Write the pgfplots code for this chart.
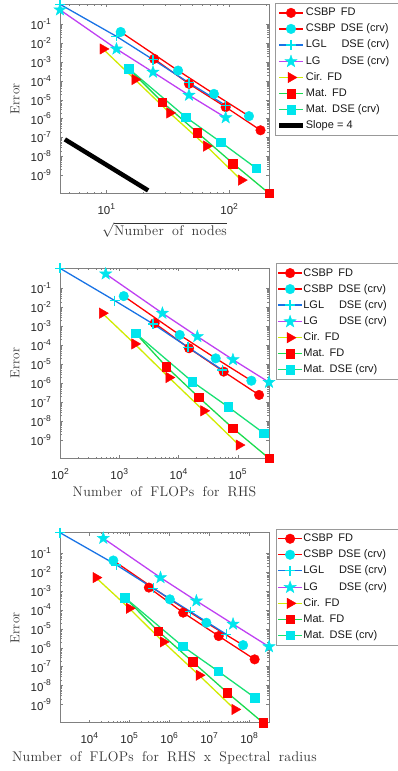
\documentclass[border=0pt]{standalone}
\usepackage{fontspec}
\setsansfont{Liberation Sans}
\newfontfamily\labfont[WordSpace=1.7,LetterSpace=2]{Latin Modern Roman}
\usepackage{pgfplots}
\pgfplotsset{compat=1.18}

\definecolor{cR}{rgb}{1,0,0}
\definecolor{cC}{rgb}{0,0.9,0.93}
\definecolor{cB}{rgb}{0.1,0.45,0.9}
\definecolor{cM}{rgb}{0.75,0.25,0.95}
\definecolor{cY}{rgb}{0.82,0.92,0}
\definecolor{cG}{rgb}{0.1,0.86,0.3}
\definecolor{cGG}{rgb}{0.1,0.88,0.45}

\newcommand{\p}[1]{10\raisebox{0.45em}{\fontsize{8.5}{9}\selectfont #1}}
\newcommand{\crvw}{\makebox[46pt][l]{(crv)}}
\newcommand{\gap}{\hspace{5pt}}

\pgfdeclareplotmark{fstar}{%
  \pgfpathmoveto{\pgfpointpolar{90}{\pgfplotmarksize}}%
  \pgfpathlineto{\pgfpointpolar{126}{0.4\pgfplotmarksize}}%
  \pgfpathlineto{\pgfpointpolar{162}{\pgfplotmarksize}}%
  \pgfpathlineto{\pgfpointpolar{198}{0.4\pgfplotmarksize}}%
  \pgfpathlineto{\pgfpointpolar{234}{\pgfplotmarksize}}%
  \pgfpathlineto{\pgfpointpolar{270}{0.4\pgfplotmarksize}}%
  \pgfpathlineto{\pgfpointpolar{306}{\pgfplotmarksize}}%
  \pgfpathlineto{\pgfpointpolar{342}{0.4\pgfplotmarksize}}%
  \pgfpathlineto{\pgfpointpolar{18}{\pgfplotmarksize}}%
  \pgfpathlineto{\pgfpointpolar{54}{0.4\pgfplotmarksize}}%
  \pgfpathclose
  \pgfusepathqfillstroke
}

\pgfplotsset{
  legend image code/.code={\draw[mark repeat=2,mark phase=2,#1] plot coordinates {(0pt,0pt) (12pt,0pt) (24pt,0pt)};},
  every axis/.append style={
    scale only axis, width=209pt,
    ymin=1.1e-10, ymax=1.14, clip=false,
    ytick={1e-9,1e-8,1e-7,1e-6,1e-5,1e-4,1e-3,1e-2,1e-1},
    yticklabels={\p{-9},\p{-8},\p{-7},\p{-6},\p{-5},\p{-4},\p{-3},\p{-2},\p{-1}},
    tick align=inside, major tick length=3pt, minor tick length=1.6pt,
    axis line style={black!50, line width=0.6pt},
    ticklabel style={font=\fontsize{11.5}{13}\sffamily, text=black!85},
    xticklabel style={yshift=-6.5pt},
    yticklabel style={xshift=-5.5pt},
    ylabel={Error},
    ylabel style={at={(axis description cs:-0.215,0.5)}, anchor=center, font=\fontsize{13}{15}\labfont, text=black!80},
    xlabel style={at={(axis description cs:0.5,0)}, anchor=base, font=\fontsize{14}{16}\labfont, text=black!80},
    legend cell align=left,
    legend style={anchor=north west, draw=black!40, line width=0.5pt, fill=white,
      font=\fontsize{11}{13}\sffamily, text=black!90,
      inner xsep=1.5pt, inner ysep=3.7pt, row sep=4.4pt,
      nodes={inner xsep=0.6pt, inner ysep=0.5pt, text height=8.2pt, text depth=2.4pt}},
  },
  sCF/.style={color=cR, line width=1.3pt, mark=*, mark size=4.8pt, mark options={solid, fill=cR, draw=cR, line width=0.4pt}},
  sCD/.style={color=cR, line width=1.3pt, mark=*, mark size=4.8pt, mark options={solid, fill=cC, draw=cC, line width=0.4pt}},
  sLGL/.style={color=cB, line width=1.3pt, mark=+, mark size=5pt, mark options={solid, draw=cC, line width=1.3pt}},
  sLG/.style={color=cM, line width=1.3pt, mark=fstar, mark size=6.4pt, mark options={solid, fill=cC, draw=cC, line width=0.4pt}},
  sCir/.style={color=cY, line width=1.3pt, mark=triangle*, mark size=6pt, mark options={solid, rotate=-90, fill=cR, draw=cR, line width=0.4pt}},
  sMF/.style={color=cG, line width=1.3pt, mark=square*, mark size=4.3pt, mark options={solid, fill=cR, draw=cR, line width=0.4pt}},
  sMD/.style={color=cGG, line width=1.3pt, mark=square*, mark size=4.3pt, mark options={solid, fill=cC, draw=cC, line width=0.4pt}},
}

\begin{document}
\begin{tikzpicture}
\path[use as bounding box] (0,0) rectangle (398pt,771pt);

% ---------------- Plot 1 ----------------
\begin{loglogaxis}[at={(60pt,577.7pt)}, anchor=south west, height=189pt,
  xmin=4.2, xmax=211, xtick={10,100}, xticklabels={\p{1},\p{2}},
  minor xtick={5,6,7,8,9,20,30,40,50,60,70,80,90,200},
  xlabel={$\sqrt{\mbox{Number of nodes}}$}, xlabel style={yshift=-42pt},
  legend style={at={(axis description cs:1.0287,1.006)}}]
\addplot[sCF] coordinates {(24.5,1.46e-3) (47.1,6.97e-5) (93.7,4.07e-6) (180,2.4e-7)};
\addlegendentry{CSBP\gap FD}
\addplot[sCD] coordinates {(13.1,3.9e-2) (38.4,3.5e-4) (75.2,2.04e-5) (145,1.35e-6)};
\addlegendentry{CSBP\gap DSE \crvw}
\addplot[sLGL] coordinates {(4.2,1.14) (12.1,2.27e-2) (24.0,1.34e-3) (47.1,7.9e-5) (93.7,5.0e-6)};
\addlegendentry{\makebox[35.7pt][l]{LGL}DSE (crv)}
\addplot[sLG] coordinates {(4.2,0.58) (12.1,4.9e-3) (24.0,2.9e-4) (47.1,1.74e-5) (93.7,1.12e-6)};
\addlegendentry{\makebox[35.7pt][l]{LG}DSE (crv)}
\addplot[sCir] coordinates {(9.4,4.9e-3) (17.1,1.18e-4) (32.8,2.0e-6) (65.3,3.5e-8) (125.6,5.5e-10)};
\addlegendentry{Cir.\gap FD}
\addplot[sMF] coordinates {(15.3,4.3e-4) (28.6,7.4e-6) (55.1,1.82e-7) (107.4,4.2e-9) (211,1.1e-10)};
\addlegendentry{Mat.\gap FD}
\addplot[sMD] coordinates {(15.3,4.3e-4) (44.3,1.2e-6) (85.4,5.7e-8) (166,2.34e-9)};
\addlegendentry{Mat.\gap DSE (crv)}
\addplot[black, line width=4.5pt, no marks] coordinates {(4.6,7.9e-8) (21.9,1.56e-10)};
\addlegendentry{Slope = 4}
\end{loglogaxis}

% ---------------- Plot 2 ----------------
\begin{loglogaxis}[at={(60pt,312.7pt)}, anchor=south west, height=190pt,
  xmin=100, xmax=3.37e5, xtick={1e2,1e3,1e4,1e5}, xticklabels={\p{2},\p{3},\p{4},\p{5}},
  xlabel={Number of FLOPs for RHS}, xlabel style={yshift=-38.5pt},
  legend style={at={(axis description cs:1.032,1.026)}}]
\addplot[sCF] coordinates {(3960,1.46e-3) (15070,6.97e-5) (57900,4.07e-6) (229000,2.4e-7)};
\addlegendentry{CSBP\gap FD}
\addplot[sCD] coordinates {(1190,3.9e-2) (10480,3.5e-4) (42500,2.04e-5) (170000,1.35e-6)};
\addlegendentry{CSBP\gap DSE \crvw}
\addplot[sLGL] coordinates {(100,1.14) (837,2.27e-2) (3720,1.34e-3) (14400,7.9e-5) (55000,5.0e-6)};
\addlegendentry{\makebox[35.7pt][l]{LGL}DSE (crv)}
\addplot[sLG] coordinates {(590,0.58) (5350,4.9e-3) (20800,2.9e-4) (83000,1.74e-5) (337000,1.12e-6)};
\addlegendentry{\makebox[35.7pt][l]{LG}DSE (crv)}
\addplot[sCir] coordinates {(519,4.9e-3) (1820,1.18e-4) (6900,2.0e-6) (26600,3.5e-8) (105000,5.5e-10)};
\addlegendentry{Cir.\gap FD}
\addplot[sMF] coordinates {(1890,4.3e-4) (6240,7.4e-6) (21900,1.82e-7) (83000,4.2e-9) (337000,1.1e-10)};
\addlegendentry{Mat.\gap FD}
\addplot[sMD] coordinates {(1890,4.3e-4) (17150,1.2e-6) (68600,5.7e-8) (274000,2.34e-9)};
\addlegendentry{Mat.\gap DSE (crv)}
\end{loglogaxis}

% ---------------- Plot 3 ----------------
\begin{loglogaxis}[at={(60pt,48.3pt)}, anchor=south west, height=190pt,
  xmin=1850, xmax=3.16e8, xtick={1e4,1e5,1e6,1e7,1e8}, xticklabels={\p{4},\p{5},\p{6},\p{7},\p{8}},
  xlabel={Number of FLOPs for RHS x Spectral radius}, xlabel style={yshift=-38.5pt},
  legend style={at={(axis description cs:1.032,1.0195)}}]
\addplot[sCF] coordinates {(3.1e5,1.46e-3) (2.24e6,6.97e-5) (1.74e7,4.07e-6) (1.38e8,2.4e-7)};
\addlegendentry{CSBP\gap FD}
\addplot[sCD] coordinates {(4e4,3.9e-2) (1.04e6,3.5e-4) (8.55e6,2.04e-5) (7.1e7,1.35e-6)};
\addlegendentry{CSBP\gap DSE \crvw}
\addplot[sLGL] coordinates {(1850,1.14) (4.8e4,2.27e-2) (3.98e5,1.34e-3) (3.4e6,7.9e-5) (2.7e7,5.0e-6)};
\addlegendentry{\makebox[35.7pt][l]{LGL}DSE (crv)}
\addplot[sLG] coordinates {(2.24e4,0.58) (6.07e5,4.9e-3) (4.8e6,2.9e-4) (3.98e7,1.74e-5) (3.16e8,1.12e-6)};
\addlegendentry{\makebox[35.7pt][l]{LG}DSE (crv)}
\addplot[sCir] coordinates {(1.47e4,4.9e-3) (1e5,1.18e-4) (7.1e5,2.0e-6) (5.6e6,3.5e-8) (4.4e7,5.5e-10)};
\addlegendentry{Cir.\gap FD}
\addplot[sMF] coordinates {(7.8e4,4.3e-4) (5.3e5,7.4e-6) (3.83e6,1.82e-7) (2.87e7,4.2e-9) (2.24e8,1.1e-10)};
\addlegendentry{Mat.\gap FD}
\addplot[sMD] coordinates {(7.8e4,4.3e-4) (2.15e6,1.2e-6) (1.68e7,5.7e-8) (1.38e8,2.34e-9)};
\addlegendentry{Mat.\gap DSE (crv)}
\end{loglogaxis}
\end{tikzpicture}
\end{document}
